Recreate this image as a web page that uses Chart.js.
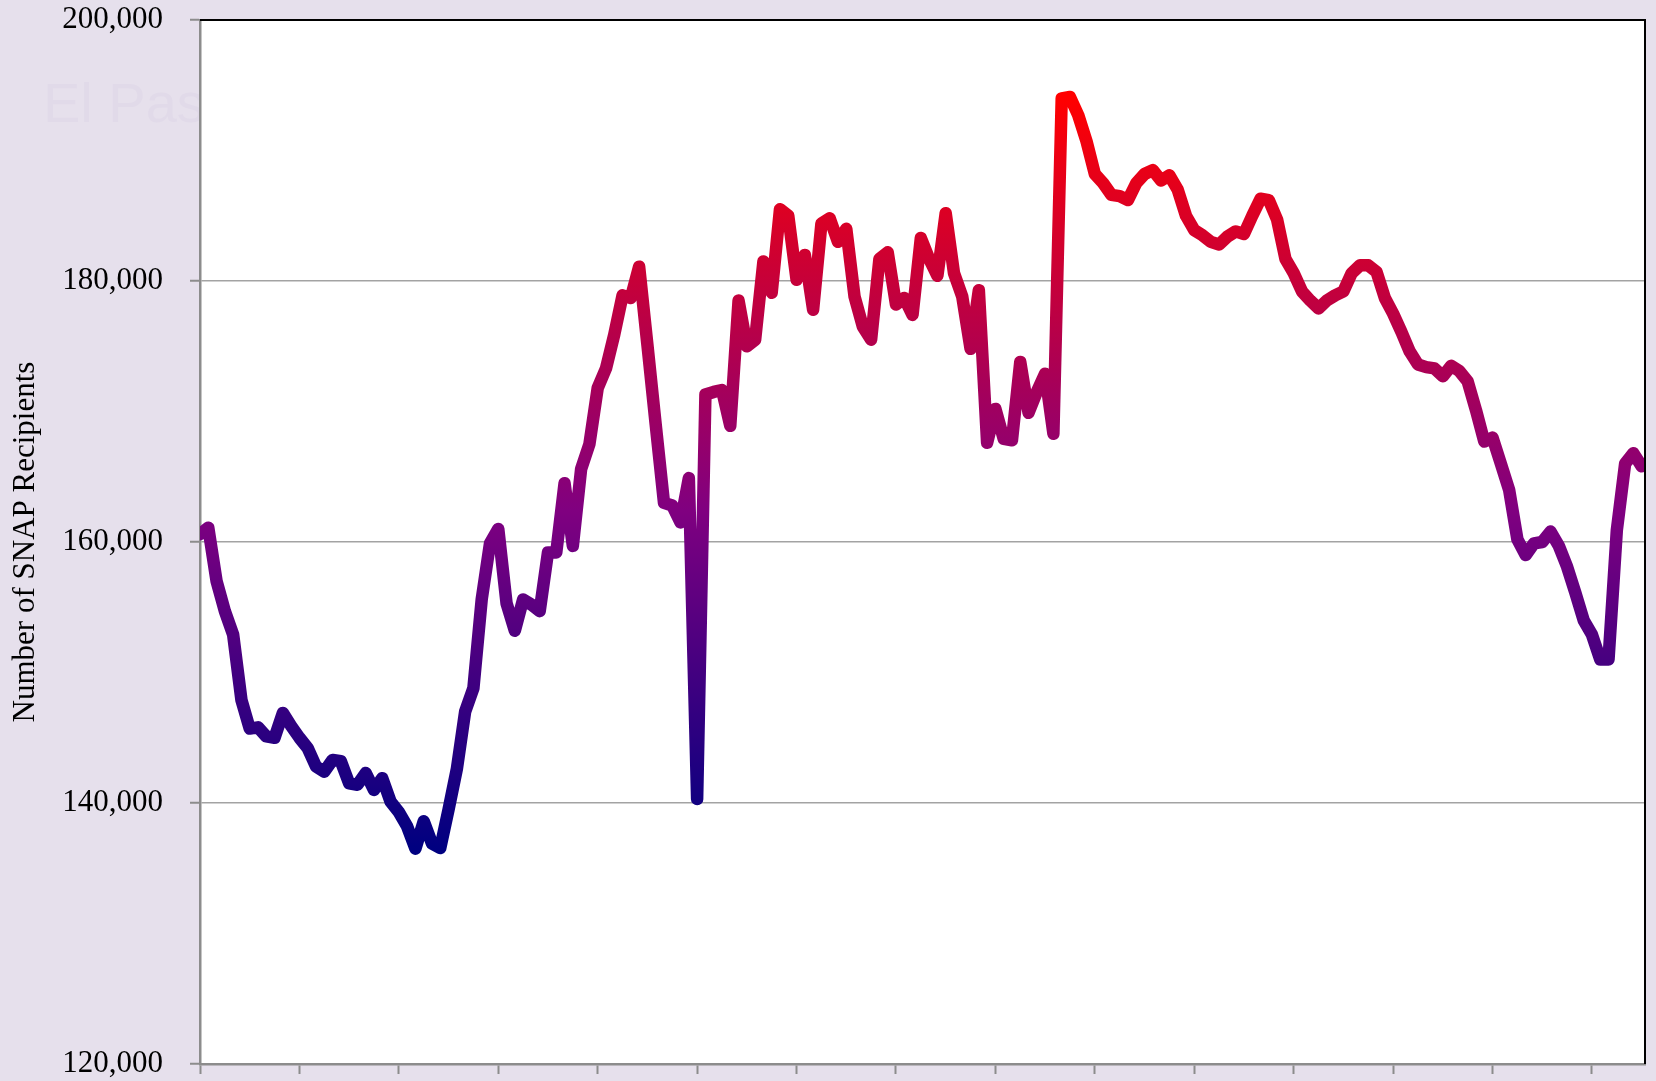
<!DOCTYPE html>
<html>
<head>
<meta charset="utf-8">
<script src="https://cdn.jsdelivr.net/npm/chart.js@4.4.1/dist/chart.umd.min.js"></script>
<style>
  html, body { margin: 0; padding: 0; background: #e6e0ec; overflow: hidden; }
  #wrap { width: 1656px; height: 1081px; position: relative; }
</style>
</head>
<body>
<div id="wrap"><canvas id="chart"></canvas></div>
<script>
// monthly SNAP recipients, El Paso County
var snapRecipients = [
  160600, 161100, 157000, 154700, 152900, 147900, 145700, 145800, 145100, 145000,
  146900, 145900, 145000, 144200, 142800, 142400, 143300, 143200, 141500, 141400,
  142300, 141000, 141900, 140100, 139300, 138200, 136500, 138600, 136900, 136550,
  139500, 142600, 147000, 148800, 155600, 159900, 161000, 155300, 153200, 155600,
  155200, 154700, 159200, 159200, 164500, 159700, 165600, 167500, 171800, 173300,
  175900, 178900, 178700, 181100, 175100, 169000, 163000, 162800, 161500, 164900,
  140300, 171300, 171500, 171650, 168900, 178500, 175000, 175500, 181500, 179100,
  185500, 185000, 180100, 182000, 177800, 184400, 184800, 183000, 184000, 178800,
  176500, 175500, 181700, 182200, 178200, 178700, 177400, 183300, 181700, 180400,
  185200, 180600, 178800, 174800, 179300, 167600, 170200, 167900, 167800, 173800,
  169900, 171500, 172900, 168300, 194000, 194100, 192700, 190700, 188200, 187500,
  186600, 186500, 186200, 187500, 188200, 188500, 187700, 188100, 187000, 185000,
  183900, 183500, 183000, 182800, 183400, 183800, 183600, 185000, 186300, 186200,
  184700, 181700, 180600, 179200, 178500, 177900, 178500, 178900, 179200, 180600,
  181200, 181200, 180700, 178700, 177500, 176100, 174600, 173600, 173400, 173300,
  172700, 173500, 173100, 172300, 170100, 167700, 168000, 166000, 164000, 160200,
  159000, 159900, 160000, 160800, 159700, 158100, 156100, 154000, 152900, 151000,
  151000, 160900, 166000, 166800, 165800
]
// month number of each point (0 = first month)
var months = snapRecipients.map(function(v, i){ return i })
var yTickValues = [120000, 140000, 160000, 180000, 200000]
var yearTickStep = 12
var xMax = 174.4

var ctx = document.getElementById('chart').getContext('2d')

function lineGradient(context){
    var chart = context.chart
    var area = chart.chartArea
    if(!area){
        return '#800080'
    }
    var yLow = chart.scales.y.getPixelForValue(Math.min.apply(null, snapRecipients))
    var yHigh = chart.scales.y.getPixelForValue(Math.max.apply(null, snapRecipients))
    var g = chart.ctx.createLinearGradient(0, yLow, 0, yHigh)
    g.addColorStop(0, '#000080')
    g.addColorStop(0.45, '#800080')
    g.addColorStop(1, '#ff0000')
    return g
}

// background, faint watermark title and white plot area; then the dark frame on top/right
var framePlugin = {
    id: 'frame',
    beforeDraw: function(chart){
        var c = chart.ctx
        var a = chart.chartArea
        c.save()
        c.fillStyle = '#e6e0ec'
        c.fillRect(0, 0, chart.width, chart.height)
        c.fillStyle = '#e1dae9'
        c.font = '56px "Liberation Sans", Arial, sans-serif'
        c.textBaseline = 'alphabetic'
        c.fillText('El Paso County', 43, 122)
        c.fillStyle = '#ffffff'
        c.fillRect(a.left, a.top, a.right - a.left, a.bottom - a.top)
        c.restore()
    },
    afterDraw: function(chart){
        var c = chart.ctx
        var a = chart.chartArea
        c.save()
        c.strokeStyle = '#000000'
        c.lineWidth = 2
        c.beginPath()
        c.moveTo(a.left, a.top)
        c.lineTo(a.right, a.top)
        c.lineTo(a.right, a.bottom)
        c.stroke()
        c.restore()
    }
}

var chart = new Chart(ctx, {
    type: 'line',
    data: {
        labels: months,
        datasets: [{
            label: 'Number of SNAP Recipients',
            data: snapRecipients,
            borderColor: lineGradient,
            borderWidth: 12.5,
            borderJoinStyle: 'round',
            borderCapStyle: 'round',
            pointRadius: 0,
            tension: 0,
            fill: false
        }]
    },
    options: {
        responsive: true,
        maintainAspectRatio: false,
        animation: false,
        layout: {
            padding: { left: 0, top: 20, right: 11, bottom: 7 }
        },
        plugins: {
            legend: { display: false },
            tooltip: { enabled: false }
        },
        scales: {
            x: {
                type: 'linear',
                min: 0,
                max: xMax,
                ticks: { display: false, stepSize: yearTickStep, includeBounds: false },
                grid: {
                    drawOnChartArea: false,
                    tickLength: 10,
                    tickWidth: 2,
                    tickColor: '#8c8c8c'
                },
                border: { color: '#8c8c8c', width: 2.5 },
                afterFit: function(axis){
                    axis.height = 10
                    axis.paddingLeft = 0
                    axis.paddingRight = 0
                }
            },
            y: {
                min: 120000,
                max: 200000,
                afterBuildTicks: function(axis){
                    axis.ticks = yTickValues.map(function(v){ return { value: v } })
                },
                ticks: {
                    color: '#000000',
                    padding: 27,
                    font: { family: '"Liberation Serif", "Times New Roman", serif', size: 31 },
                    callback: function(value){ return value.toLocaleString('en-US') }
                },
                grid: {
                    color: function(c){
                        return (c.tick && (c.tick.value === 120000 || c.tick.value === 200000)) ? 'rgba(0,0,0,0)' : '#a3a3a3'
                    },
                    lineWidth: 1.5,
                    tickLength: 10,
                    tickWidth: 2,
                    tickColor: '#8c8c8c'
                },
                border: { color: '#8c8c8c', width: 2.5 },
                title: {
                    display: true,
                    text: 'Number of SNAP Recipients',
                    color: '#000000',
                    padding: { top: 7, bottom: 0 },
                    font: { family: '"Liberation Serif", "Times New Roman", serif', size: 31 }
                },
                afterFit: function(axis){
                    axis.width = 200
                    // labels may hang over the frame; do not let them shrink the plot
                    axis.paddingTop = 0
                    axis.paddingBottom = 0
                }
            }
        }
    },
    plugins: [framePlugin]
})
</script>
</body>
</html>
